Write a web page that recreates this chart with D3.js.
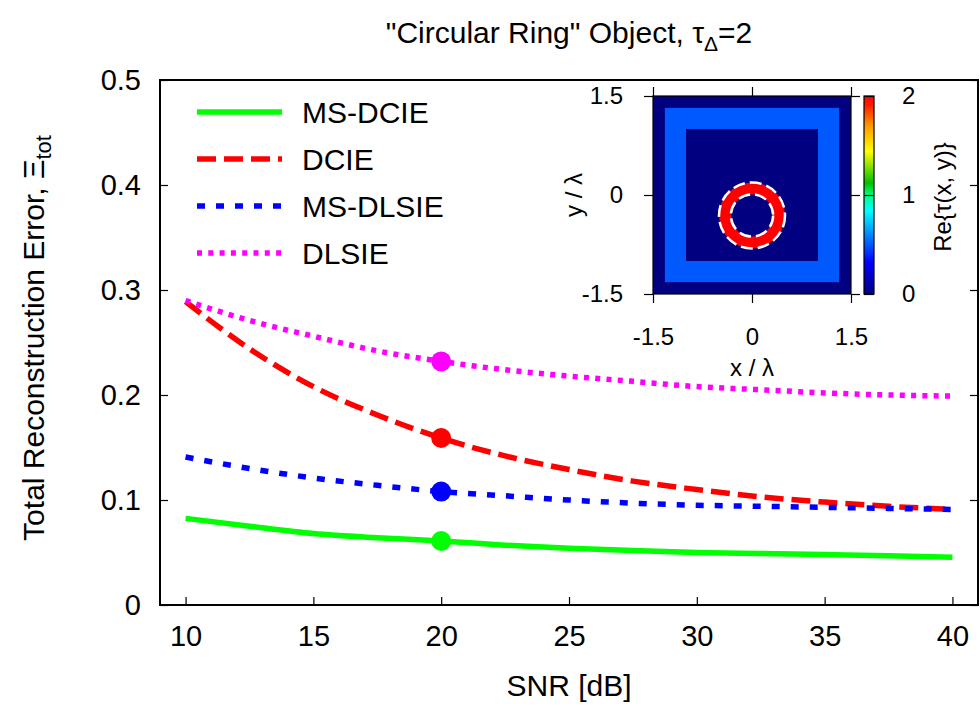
<!DOCTYPE html>
<html>
<head>
<meta charset="utf-8">
<script src="https://cdn.jsdelivr.net/npm/d3@7"></script>
<style>
body { margin: 0; background: #fff; }
text { font-family: "Liberation Sans", Arial, sans-serif; fill: #000; }
.axis path.domain { display: none; }
.axis line { stroke: #000; stroke-width: 1.2; }
</style>
</head>
<body>
<div id="chart"></div>
<script>
// main chart data
var snr = [10, 12.5, 15, 17.5, 20, 22.5, 25, 27.5, 30, 32.5, 35, 37.5, 40];
var msDcie  = [0.0825, 0.075, 0.068, 0.064, 0.061, 0.057, 0.054, 0.052, 0.050, 0.049, 0.048, 0.047, 0.0455];
var dcie    = [0.289, 0.244, 0.208, 0.181, 0.159, 0.142, 0.129, 0.118, 0.110, 0.103, 0.098, 0.094, 0.091];
var msDlsie = [0.141, 0.130, 0.121, 0.114, 0.108, 0.104, 0.100, 0.097, 0.095, 0.094, 0.093, 0.092, 0.091];
var dlsie   = [0.290, 0.271, 0.256, 0.242, 0.232, 0.224, 0.218, 0.213, 0.208, 0.205, 0.202, 0.200, 0.199];
var seriesNames = ["MS-DCIE", "DCIE", "MS-DLSIE", "DLSIE"];
var markerSnr = 20;

var xTicks = [10, 15, 20, 25, 30, 35, 40];
var yTicks = [0, 0.1, 0.2, 0.3, 0.4, 0.5];

// inset data
var insetTicks = [-1.5, 0, 1.5];
var cbTicks = [0, 1, 2];
var squareHalf = [1.32, 1.0];
var squareValue = [0.5, 0];
var ringCenter = [0, -0.31];
var ringRadii = [0.32, 0.5];
var ringValue = 2;
var cmapPos = [0, 0.16, 0.42, 0.5, 0.56, 0.72, 0.85, 0.95, 1];
var cmapColors = ["#000080", "#0000ff", "#00ffff", "#00ff80", "#00c000", "#ffff00", "#ff9900", "#ff2000", "#ff0000"];

var width = 980, height = 706;
var margin = {top: 80, right: 2, bottom: 101, left: 160};

var svg = d3.select("#chart").append("svg")
  .attr("width", width)
  .attr("height", height);

var x = d3.scaleLinear().domain([9, 41]).range([margin.left, width - margin.right]);
var y = d3.scaleLinear().domain([0, 0.5]).range([height - margin.bottom, margin.top]);

// axes
svg.append("g")
  .attr("class", "axis")
  .attr("transform", "translate(" + margin.left + ",0)")
  .call(d3.axisLeft(y).tickValues(yTicks).tickSize(-8).tickPadding(19)
    .tickFormat(function(d){ return d === 0 ? "0" : d.toFixed(1); }))
  .selectAll("text").style("font-size", "29px");

svg.append("g")
  .attr("class", "axis")
  .attr("transform", "translate(" + (width - margin.right) + ",0)")
  .call(d3.axisRight(y).tickValues(yTicks).tickSize(-8).tickFormat(""));

svg.append("g")
  .attr("class", "axis")
  .attr("transform", "translate(0," + (height - margin.bottom) + ")")
  .call(d3.axisBottom(x).tickValues(xTicks).tickSize(-8).tickPadding(20).tickFormat(String))
  .selectAll("text").style("font-size", "29px");

// frame
svg.append("rect")
  .attr("x", margin.left)
  .attr("y", margin.top)
  .attr("width", width - margin.right - margin.left)
  .attr("height", height - margin.bottom - margin.top)
  .attr("fill", "none")
  .attr("stroke", "#000")
  .attr("stroke-width", 2);

// title
var title = svg.append("text")
  .attr("x", (margin.left + width - margin.right) / 2)
  .attr("y", 43)
  .attr("text-anchor", "middle")
  .style("font-size", "30px");
title.append("tspan").text("\"Circular Ring\" Object, τ");
title.append("tspan").attr("dy", 8).style("font-size", "21px").text("Δ");
title.append("tspan").attr("dy", -8).text("=2");

// axis labels
svg.append("text")
  .attr("x", (margin.left + width - margin.right) / 2)
  .attr("y", 696)
  .attr("text-anchor", "middle")
  .style("font-size", "30px")
  .text("SNR [dB]");

var ylab = svg.append("text")
  .attr("transform", "translate(44," + 338 + ") rotate(-90)")
  .attr("text-anchor", "middle")
  .style("font-size", "30px");
ylab.append("tspan").text("Total Reconstruction Error, Ξ");
ylab.append("tspan").attr("dy", 7).style("font-size", "22px").text("tot");

// series
var series = [
  {name: seriesNames[0], values: msDcie,  color: "#00ff00", dash: null},
  {name: seriesNames[1], values: dcie,    color: "#ff0000", dash: "19,8"},
  {name: seriesNames[2], values: msDlsie, color: "#0000ff", dash: "8,11"},
  {name: seriesNames[3], values: dlsie,   color: "#ff00ff", dash: "5,6.3"}
];

var line = d3.line()
  .x(function(d){ return x(d[0]); })
  .y(function(d){ return y(d[1]); })
  .curve(d3.curveMonotoneX);

series.forEach(function(s){
  var pts = snr.map(function(v, i){ return [v, s.values[i]]; });
  svg.append("path")
    .attr("d", line(pts))
    .attr("fill", "none")
    .attr("stroke", s.color)
    .attr("stroke-width", 5.5)
    .attr("stroke-dasharray", s.dash);
  var mi = snr.indexOf(markerSnr);
  svg.append("circle")
    .attr("cx", x(markerSnr))
    .attr("cy", y(s.values[mi]))
    .attr("r", 10)
    .attr("fill", s.color);
});

// legend
var legend = svg.append("g").attr("transform", "translate(197,112)");
series.forEach(function(s, i){
  var g = legend.append("g").attr("transform", "translate(0," + (i * 47) + ")");
  g.append("line")
    .attr("x1", 0).attr("x2", 85)
    .attr("y1", 0).attr("y2", 0)
    .attr("stroke", s.color)
    .attr("stroke-width", 5.5)
    .attr("stroke-dasharray", s.dash);
  g.append("text")
    .attr("x", 105)
    .attr("y", 11)
    .style("font-size", "30px")
    .text(s.name);
});

// inset map
var ix = d3.scaleLinear().domain([-1.5, 1.5]).range([653, 851]);
var iy = d3.scaleLinear().domain([-1.5, 1.5]).range([294, 96]);
var colorScale = d3.scaleLinear()
  .domain(cmapPos.map(function(p){ return p * 2; }))
  .range(cmapColors);

var inset = svg.append("g");
inset.append("rect")
  .attr("x", ix(-1.5)).attr("y", iy(1.5))
  .attr("width", ix(1.5) - ix(-1.5)).attr("height", iy(-1.5) - iy(1.5))
  .attr("fill", colorScale(0));

squareHalf.forEach(function(h, i){
  inset.append("rect")
    .attr("x", ix(-h)).attr("y", iy(h))
    .attr("width", ix(h) - ix(-h)).attr("height", iy(-h) - iy(h))
    .attr("fill", colorScale(squareValue[i]));
});

var rPx = function(r){ return ix(r) - ix(0); };
inset.append("path")
  .attr("transform", "translate(" + ix(ringCenter[0]) + "," + iy(ringCenter[1]) + ")")
  .attr("d", d3.arc().innerRadius(rPx(ringRadii[0])).outerRadius(rPx(ringRadii[1]))
    .startAngle(0).endAngle(2 * Math.PI)())
  .attr("fill", colorScale(ringValue));

ringRadii.forEach(function(r){
  inset.append("circle")
    .attr("cx", ix(ringCenter[0])).attr("cy", iy(ringCenter[1]))
    .attr("r", rPx(r))
    .attr("fill", "none")
    .attr("stroke", "#fff")
    .attr("stroke-width", 2.5)
    .attr("stroke-dasharray", "12,5");
});

inset.append("rect")
  .attr("x", ix(-1.5)).attr("y", iy(1.5))
  .attr("width", ix(1.5) - ix(-1.5)).attr("height", iy(-1.5) - iy(1.5))
  .attr("fill", "none").attr("stroke", "#000").attr("stroke-width", 1.2);

inset.append("g").attr("class", "axis")
  .attr("transform", "translate(" + ix(-1.5) + ",0)")
  .call(d3.axisLeft(iy).tickValues(insetTicks).tickSize(9).tickPadding(21).tickFormat(String))
  .selectAll("text").style("font-size", "24px");
inset.append("g").attr("class", "axis")
  .attr("transform", "translate(" + ix(1.5) + ",0)")
  .call(d3.axisRight(iy).tickValues(insetTicks).tickSize(9).tickFormat(""));
inset.append("g").attr("class", "axis")
  .attr("transform", "translate(0," + iy(-1.5) + ")")
  .call(d3.axisBottom(ix).tickValues(insetTicks).tickSize(9).tickPadding(25).tickFormat(String))
  .selectAll("text").style("font-size", "24px");
inset.append("g").attr("class", "axis")
  .attr("transform", "translate(0," + iy(1.5) + ")")
  .call(d3.axisTop(ix).tickValues(insetTicks).tickSize(9).tickFormat(""));

inset.append("text")
  .attr("x", ix(0)).attr("y", 376)
  .attr("text-anchor", "middle")
  .style("font-size", "24px")
  .text("x / λ");
inset.append("text")
  .attr("transform", "translate(582," + iy(0) + ") rotate(-90)")
  .attr("text-anchor", "middle")
  .style("font-size", "24px")
  .text("y / λ");

// colour bar
var cb = d3.scaleLinear().domain([0, 2]).range([294, 96]);
var grad = svg.append("defs").append("linearGradient")
  .attr("id", "cbGrad")
  .attr("x1", "0%").attr("y1", "100%")
  .attr("x2", "0%").attr("y2", "0%");
grad.selectAll("stop")
  .data(cmapPos)
  .enter().append("stop")
  .attr("offset", function(d){ return d; })
  .attr("stop-color", function(d, i){ return cmapColors[i]; });

inset.append("rect")
  .attr("x", 864).attr("y", cb(2))
  .attr("width", 10).attr("height", cb(0) - cb(2))
  .attr("fill", "url(#cbGrad)")
  .attr("stroke", "#000").attr("stroke-width", 1.2);

inset.append("g").attr("class", "axis")
  .attr("transform", "translate(874,0)")
  .call(d3.axisRight(cb).tickValues(cbTicks).tickSize(-10).tickPadding(28).tickFormat(String))
  .selectAll("text").style("font-size", "24px");

inset.append("text")
  .attr("transform", "translate(951,197) rotate(-90)")
  .attr("text-anchor", "middle")
  .style("font-size", "24px")
  .text("Re{τ(x, y)}");
</script>
</body>
</html>
